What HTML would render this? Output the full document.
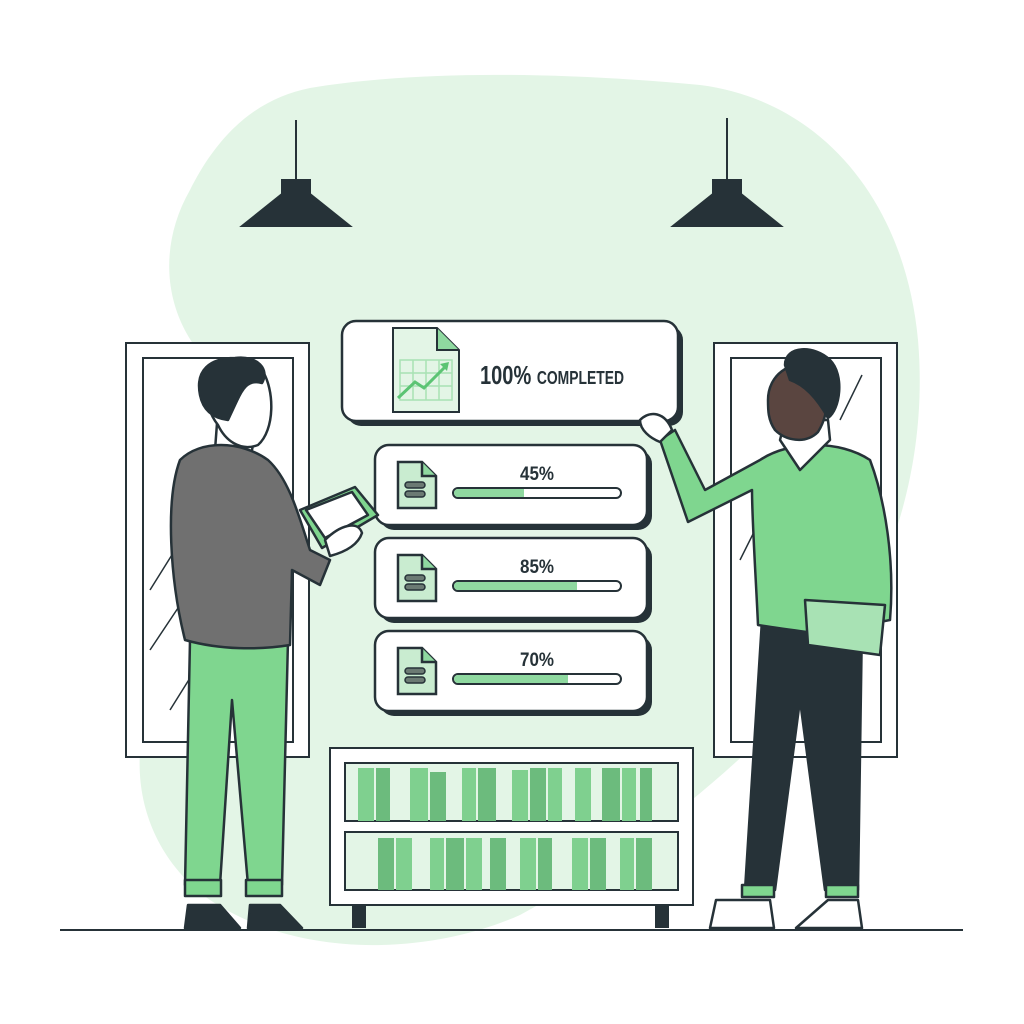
<!DOCTYPE html>
<html><head><meta charset="utf-8"><style>html,body{margin:0;padding:0;background:#fff}svg{display:block}</style></head>
<body>
<svg width="1024" height="1024" viewBox="0 0 1024 1024" xmlns="http://www.w3.org/2000/svg" font-family="'Liberation Sans',sans-serif">
<defs>
<g id="doc"><path d="M0 0 H24 L38 14 V46 H0 Z" fill="#c9ecd0" stroke="#263238" stroke-width="2.5"/><path d="M24 0 V14 H38" fill="#8fd9a0" stroke="#263238" stroke-width="2.5"/><rect x="7" y="20" width="20" height="6" rx="3" fill="#6b7a73" stroke="#263238" stroke-width="1.5"/><rect x="7" y="29" width="20" height="6" rx="3" fill="#6b7a73" stroke="#263238" stroke-width="1.5"/></g>
</defs>
<path d="M310 88 C420 70 560 72 700 85 C820 100 905 200 918 340 C930 480 880 620 780 720 C700 800 620 860 520 915 C430 955 300 960 210 900 C140 850 120 760 160 680 C190 610 230 560 290 500 C320 460 300 420 230 380 C170 340 150 260 190 190 C220 130 260 98 310 88 Z" fill="#e3f5e6"/>
<g fill="#263238" stroke="#263238" stroke-width="2">
<line x1="296" y1="120" x2="296" y2="180"/><rect x="282" y="180" width="28" height="14"/><path d="M282 194 H310 L350 226 H242 Z"/>
<line x1="727" y1="118" x2="727" y2="180"/><rect x="713" y="180" width="28" height="14"/><path d="M713 194 H741 L781 226 H673 Z"/>
</g>
<g fill="#fff" stroke="#263238" stroke-width="2">
<rect x="126" y="343" width="183" height="414"/><rect x="143" y="358" width="150" height="384" fill="#fff"/>
<rect x="714" y="343" width="183" height="414"/><rect x="731" y="358" width="150" height="384"/>
</g>
<g stroke="#263238" stroke-width="1.5"><line x1="150" y1="590" x2="175" y2="550"/><line x1="150" y1="650" x2="190" y2="590"/><line x1="170" y1="710" x2="195" y2="670"/><line x1="840" y1="420" x2="862" y2="375"/><line x1="740" y1="560" x2="760" y2="520"/></g>
<rect x="347" y="326" width="336" height="100" rx="14" fill="#263238"/>
<rect x="342" y="321" width="336" height="100" rx="14" fill="#fff" stroke="#263238" stroke-width="2.5"/>
<path d="M393 328 H437 L459 350 V412 H393 Z" fill="#e3f5e6" stroke="#263238" stroke-width="2"/>
<path d="M437 328 V350 H459" fill="#8fd9a0" stroke="#263238" stroke-width="2"/>
<g stroke="#a8e2b4" stroke-width="1.5" fill="none"><rect x="400" y="360" width="52" height="40"/><line x1="413" y1="360" x2="413" y2="400"/><line x1="426" y1="360" x2="426" y2="400"/><line x1="439" y1="360" x2="439" y2="400"/><line x1="400" y1="373" x2="452" y2="373"/><line x1="400" y1="386" x2="452" y2="386"/></g>
<path d="M398 398 L415 382 L424 388 L446 366" stroke="#5cc474" stroke-width="3" fill="none"/><path d="M440 364 L449 362 L447 371 Z" fill="#5cc474"/>
<text x="480" y="384" font-size="26" font-weight="bold" fill="#263238" textLength="144" lengthAdjust="spacingAndGlyphs">100% <tspan font-size="18">COMPLETED</tspan></text>
<g font-size="19" font-weight="bold" fill="#263238">
<rect x="380" y="450" width="272" height="80" rx="14" fill="#263238"/>
<rect x="375" y="445" width="272" height="80" rx="14" fill="#fff" stroke="#263238" stroke-width="2.5"/>
<use href="#doc" x="398" y="462"/>
<text x="520" y="480" textLength="34" lengthAdjust="spacingAndGlyphs">45%</text>
<rect x="453" y="488" width="168" height="10" rx="5" fill="#fff" stroke="#263238" stroke-width="2"/><path d="M458 489 H524 V497 H458 A4 4 0 0 1 458 489Z" fill="#8fd9a0"/>
<rect x="380" y="543" width="272" height="80" rx="14" fill="#263238"/>
<rect x="375" y="538" width="272" height="80" rx="14" fill="#fff" stroke="#263238" stroke-width="2.5"/>
<use href="#doc" x="398" y="555"/>
<text x="520" y="573" textLength="34" lengthAdjust="spacingAndGlyphs">85%</text>
<rect x="453" y="581" width="168" height="10" rx="5" fill="#fff" stroke="#263238" stroke-width="2"/><path d="M458 582 H577 V590 H458 A4 4 0 0 1 458 582Z" fill="#8fd9a0"/>
<rect x="380" y="636" width="272" height="80" rx="14" fill="#263238"/>
<rect x="375" y="631" width="272" height="80" rx="14" fill="#fff" stroke="#263238" stroke-width="2.5"/>
<use href="#doc" x="398" y="648"/>
<text x="520" y="666" textLength="34" lengthAdjust="spacingAndGlyphs">70%</text>
<rect x="453" y="674" width="168" height="10" rx="5" fill="#fff" stroke="#263238" stroke-width="2"/><path d="M458 675 H568 V683 H458 A4 4 0 0 1 458 675Z" fill="#8fd9a0"/>
</g>
<rect x="352" y="900" width="14" height="28" fill="#263238"/><rect x="655" y="900" width="14" height="28" fill="#263238"/>
<rect x="330" y="748" width="363" height="157" fill="#fff" stroke="#263238" stroke-width="2"/>
<rect x="345" y="763" width="333" height="58" fill="#e3f5e6" stroke="#263238" stroke-width="2"/>
<rect x="345" y="832" width="333" height="58" fill="#e3f5e6" stroke="#263238" stroke-width="2"/>
<g fill="#7fd08f">
<rect x="358" y="768" width="16" height="53"/><rect x="376" y="768" width="14" height="53" fill="#6cbb7d"/><rect x="410" y="768" width="18" height="53"/><rect x="430" y="772" width="16" height="49" fill="#6cbb7d"/><rect x="462" y="768" width="14" height="53"/><rect x="478" y="768" width="18" height="53" fill="#6cbb7d"/><rect x="512" y="770" width="16" height="51"/><rect x="530" y="768" width="16" height="53" fill="#6cbb7d"/><rect x="548" y="768" width="14" height="53"/><rect x="575" y="768" width="16" height="53"/><rect x="602" y="768" width="18" height="53" fill="#6cbb7d"/><rect x="622" y="768" width="14" height="53"/><rect x="640" y="768" width="12" height="53" fill="#6cbb7d"/>
<rect x="378" y="838" width="16" height="52" fill="#6cbb7d"/><rect x="396" y="838" width="16" height="52"/><rect x="430" y="838" width="14" height="52"/><rect x="446" y="838" width="18" height="52" fill="#6cbb7d"/><rect x="466" y="838" width="16" height="52"/><rect x="490" y="838" width="16" height="52" fill="#6cbb7d"/><rect x="520" y="838" width="16" height="52"/><rect x="538" y="838" width="14" height="52" fill="#6cbb7d"/><rect x="572" y="838" width="16" height="52"/><rect x="590" y="838" width="16" height="52" fill="#6cbb7d"/><rect x="620" y="838" width="14" height="52"/><rect x="636" y="838" width="16" height="52" fill="#6cbb7d"/>
</g>
<line x1="60" y1="930" x2="963" y2="930" stroke="#263238" stroke-width="2"/>
<g stroke="#263238" stroke-width="2.5" stroke-linejoin="round">
<path d="M190 640 L185 885 H220 L232 700 L248 885 H282 L288 640 Z" fill="#7fd68f"/>
<rect x="185" y="880" width="36" height="16" fill="#7fd68f"/><rect x="246" y="880" width="36" height="16" fill="#7fd68f"/>
<path d="M185 928 L188 905 H220 L240 928 Z" fill="#263238"/><path d="M248 928 L250 905 H280 L302 928 Z" fill="#263238"/>
<path d="M218 410 L215 450 L250 460 L258 420 Z" fill="#fff"/>
<path d="M180 460 C200 440 240 440 268 460 C290 480 300 520 310 550 L330 560 L320 585 L292 570 L290 645 C260 650 220 650 185 640 C170 580 165 500 180 460 Z" fill="#707070"/>
<path d="M300 510 L355 487 L378 515 L322 548 Z" fill="#7fd68f"/>
<path d="M306 510 L352 492 L368 515 L325 538 Z" fill="#fff"/>
<path d="M325 540 C340 525 358 520 362 533 C358 545 345 552 330 556 Z" fill="#fff"/>
<path d="M205 385 C208 360 240 355 262 370 C275 390 275 430 258 445 C240 452 225 440 218 425 C210 415 205 400 205 385 Z" fill="#fff"/>
<path d="M200 395 C195 370 210 358 235 358 C258 355 270 370 262 383 C245 378 240 395 235 405 L228 420 C212 418 203 410 200 395 Z" fill="#263238"/>
</g>
<g stroke="#263238" stroke-width="2.5" stroke-linejoin="round">
<path d="M762 620 L745 890 H775 L800 700 L825 890 H858 L862 620 Z" fill="#263238"/>
<rect x="742" y="885" width="32" height="12" fill="#7fd68f"/><rect x="826" y="885" width="32" height="12" fill="#7fd68f"/>
<path d="M710 928 L716 900 H770 L774 928 Z" fill="#fff"/><path d="M796 928 L828 900 H858 L862 928 Z" fill="#fff"/>
<path d="M760 460 C790 440 840 440 870 460 C885 500 895 560 890 620 L865 625 L862 640 C830 635 790 630 758 625 C756 580 752 520 752 490 L688 522 L660 440 L675 430 L705 490 Z" fill="#7fd68f"/>
<path d="M780 440 L800 470 L830 440 L828 420 L785 420 Z" fill="#fff"/>
<path d="M805 600 L885 605 L880 655 L808 645 Z" fill="#a8e2b4"/>
<path d="M640 420 C650 410 665 412 672 430 L660 442 C650 438 640 430 640 420 Z" fill="#fff"/>
<path d="M768 400 C768 375 790 360 812 365 C830 375 832 410 818 432 C805 445 785 440 775 430 C768 420 768 410 768 400 Z" fill="#5a4540"/>
<path d="M785 365 C785 345 815 345 830 360 C845 375 840 410 828 418 C818 400 805 385 790 380 Z" fill="#263238"/>
</g>
</svg>
</body></html>
